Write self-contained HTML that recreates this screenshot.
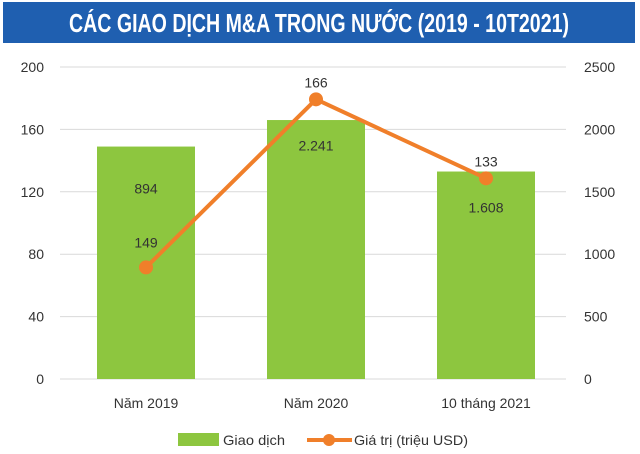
<!DOCTYPE html>
<html><head><meta charset="utf-8"><style>
body{margin:0;background:#fff;width:640px;height:454px;overflow:hidden;font-family:"Liberation Sans",sans-serif}
#title{position:absolute;left:3px;top:2px;width:632px;height:41px;background:#1f5fb0}
svg{position:absolute;left:0;top:0}
text{font-family:"Liberation Sans",sans-serif;fill:#333;font-size:14px}
</style></head><body>
<div id="title"></div>
<svg id="chart" width="640" height="454">
<text x="319" y="32" text-anchor="middle" textLength="500" lengthAdjust="spacingAndGlyphs" style="fill:#fff;font-weight:bold;font-size:26px">CÁC GIAO DỊCH M&amp;A TRONG NƯỚC (2019 - 10T2021)</text>
</svg>
<script>
const categories=["Năm 2019","Năm 2020","10 tháng 2021"];
const deals=[149,166,133];
const values=[894,2241,1608];
const valueLabels=["894","2.241","1.608"];
const leftTicks=[0,40,80,120,160,200];
const rightTicks=[0,500,1000,1500,2000,2500];
const NS="http://www.w3.org/2000/svg";
const svg=document.getElementById('chart');
const y0=379,y1=67;
const yL=v=>y0-(v/200)*(y0-y1);
const yR=v=>y0-(v/2500)*(y0-y1);
const xC=i=>146+i*170;
function mk(t,a,p){const e=document.createElementNS(NS,t);for(const k in a)e.setAttribute(k,a[k]);(p||svg).appendChild(e);return e;}
leftTicks.forEach((t,i)=>{
 const g=mk('line',{x1:60,x2:566,y1:yL(t),y2:yL(t),stroke:'#d9d9d9','stroke-width':1});
 
 
 const l=mk('text',{x:44,y:yL(t)+5,'text-anchor':'end'});l.textContent=t;
 
 
 const r=mk('text',{x:584,y:yR(rightTicks[i])+5});r.textContent=rightTicks[i];
 
 
});
categories.forEach((c,i)=>{
 const b=mk('rect',{x:xC(i)-49,y:yL(deals[i]),width:98,height:y0-yL(deals[i]),fill:'#8dc63f'});
 
 
 const t=mk('text',{x:xC(i),y:408,'text-anchor':'middle'});t.textContent=c;
 
 
});
const pts=values.map((v,i)=>xC(i)+','+yR(v)).join(' ');
const pl=mk('polyline',{points:pts,fill:'none',stroke:'#f07f2a','stroke-width':4});


values.forEach((v,i)=>{
 const c=mk('circle',{cx:xC(i),cy:yR(v),r:7,fill:'#f07f2a'});
 
 
});
const labOff=[0,51,34];
deals.forEach((d,i)=>{
 let yy = i===0 ? yR(values[i])-20 : yR(values[i])-12;
 const t=mk('text',{x:xC(i),y:yy,'text-anchor':'middle','font-size':'15'});t.textContent=d;
 
 
 let vy = i===0 ? yL(deals[i])+47 : yR(values[i])+labOff[i];
 const v=mk('text',{x:xC(i),y:vy,'text-anchor':'middle','font-size':'15'});v.textContent=valueLabels[i];
 
 
});
const lg=mk('rect',{x:178,y:433,width:41,height:13,fill:'#8dc63f'});


const lt=mk('text',{x:223,y:445,textLength:62,lengthAdjust:'spacingAndGlyphs'});lt.textContent='Giao dịch';


const ll=mk('line',{x1:307,x2:352,y1:440,y2:440,stroke:'#f07f2a','stroke-width':4});


const lc=mk('circle',{cx:329,cy:440,r:6,fill:'#f07f2a'});


const lt2=mk('text',{x:354,y:445,textLength:114,lengthAdjust:'spacingAndGlyphs'});lt2.textContent='Giá trị (triệu USD)';


</script>
</body></html>
